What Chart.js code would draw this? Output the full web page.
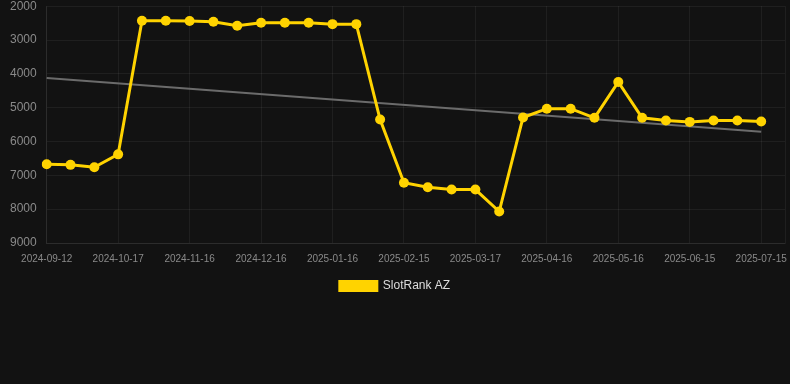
<!DOCTYPE html>
<html>
<head>
<meta charset="utf-8">
<script src="https://cdn.jsdelivr.net/npm/chart.js@4.4.1/dist/chart.umd.min.js"></script>
<style>
  html, body { margin: 0; padding: 0; background: #121212; overflow: hidden; }
  #wrap { position: relative; width: 790px; height: 313px; margin-top: -11px; }
</style>
</head>
<body>
<div id="wrap"><canvas id="rankChart"></canvas></div>
<script>
const dates = [
  '2024-09-12', '2024-09-24', '2024-10-05', '2024-10-17', '2024-10-27', '2024-11-06',
  '2024-11-16', '2024-11-26', '2024-12-06', '2024-12-16', '2024-12-26', '2025-01-05',
  '2025-01-16', '2025-01-26', '2025-02-05', '2025-02-15', '2025-02-25', '2025-03-07',
  '2025-03-17', '2025-03-27', '2025-04-06', '2025-04-16', '2025-04-26', '2025-05-06',
  '2025-05-16', '2025-05-26', '2025-06-05', '2025-06-15', '2025-06-25', '2025-07-05',
  '2025-07-15', '2025-07-25'
];

const rankAZ = [
  6670, 6690, 6760, 6380, 2430, 2430, 2440, 2460, 2580, 2490, 2490, 2490,
  2530, 2530, 5350, 7220, 7350, 7420, 7420, 8070, 5290, 5030, 5030, 5300,
  4240, 5300, 5380, 5420, 5380, 5380, 5410
];

// trend line: only the two ends
const trend = [4120, null, null, null, null, null, null, null, null, null, null, null,
  null, null, null, null, null, null, null, null, null, null, null, null,
  null, null, null, null, null, null, 5710];

const yTicks = [2000, 3000, 4000, 5000, 6000, 7000, 8000, 9000];

const font = 'Arial, "Liberation Sans", sans-serif';
const gold = '#FFD300';
const gridColor = 'rgba(255,255,255,0.06)';

new Chart(document.getElementById('rankChart'), {
  type: 'line',
  data: {
    labels: dates,
    datasets: [
      {
        label: 'SlotRank AZ',
        data: rankAZ,
        borderColor: gold,
        backgroundColor: gold,
        borderWidth: 3,
        tension: 0,
        pointRadius: 5,
        pointHoverRadius: 5,
        pointBackgroundColor: gold,
        pointBorderWidth: 0
      },
      {
        label: 'trend',
        data: trend,
        borderColor: '#6b6b6b',
        backgroundColor: '#6b6b6b',
        borderWidth: 2,
        pointRadius: 0,
        spanGaps: true,
        tension: 0
      }
    ]
  },
  options: {
    responsive: true,
    maintainAspectRatio: false,
    animation: false,
    layout: { padding: { left: 0, right: 0, top: 0 } },
    plugins: {
      tooltip: { enabled: false },
      legend: {
        position: 'bottom',
        labels: {
          color: '#dddddd',
          boxWidth: 37,
          boxHeight: 9,
          padding: 5,
          font: { family: font, size: 12 },
          filter: item => item.text !== 'trend'
        }
      }
    },
    scales: {
      x: {
        grid: { color: gridColor, drawTicks: false },
        border: { color: gridColor },
        afterFit: scale => { scale.paddingRight = 5; },
        ticks: {
          color: '#8a8a8a',
          font: { family: font, size: 10 },
          autoSkip: false,
          maxRotation: 0,
          padding: 10,
          callback: function (v, i) {
            if (i === dates.length - 1) return '';
            return (i % 3 === 0) ? dates[i] : null;
          }
        }
      },
      y: {
        reverse: true,
        min: yTicks[0],
        max: yTicks[yTicks.length - 1],
        grid: { color: gridColor, drawTicks: false },
        border: { color: gridColor },
        afterBuildTicks: axis => { axis.ticks = yTicks.map(v => ({ value: v })); },
        ticks: {
          color: '#8a8a8a',
          font: { family: font, size: 12 },
          padding: 10,
          callback: v => String(v)
        }
      }
    }
  }
});
</script>
</body>
</html>
